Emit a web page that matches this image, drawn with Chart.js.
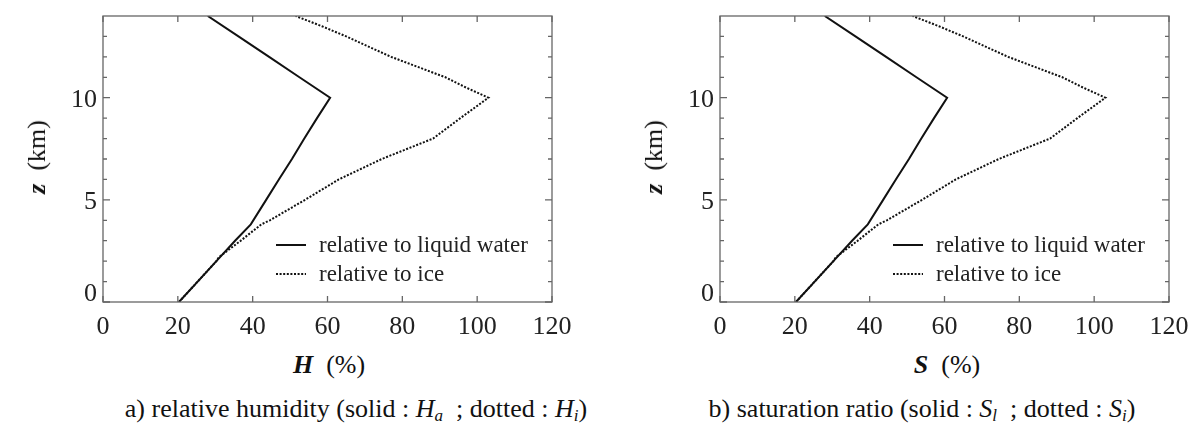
<!DOCTYPE html>
<html>
<head>
<meta charset="utf-8">
<title>Humidity profiles</title>
<script src="https://cdn.jsdelivr.net/npm/chart.js@4.4.1/dist/chart.umd.min.js"></script>
<style>
body{margin:0;background:#fff;}
#page{position:relative;width:1200px;height:435px;overflow:hidden;font-family:"Liberation Serif","Times New Roman",serif;color:#111;}
.panel{position:absolute;top:0;width:600px;height:340px;}
.lbl{position:absolute;white-space:nowrap;transform:translate(-50%,-50%);font-size:26px;line-height:1;}
.ytitle{transform:translate(-50%,-50%) rotate(-90deg);}
.lbl b{font-style:italic;}
.lbl sub{font-size:17px;vertical-align:-4px;}
</style>
</head>
<body>
<div id="page">
  <div class="panel" style="left:0"><canvas id="chartH"></canvas></div>
  <div class="panel" style="left:600px"><canvas id="chartS"></canvas></div>

  <div class="lbl ytitle" style="left:37px;top:157px"><b>z</b>&nbsp;&nbsp;(km)</div>
  <div class="lbl" style="left:329px;top:365px"><b>H</b>&nbsp;&nbsp;(%)</div>
  <div class="lbl" style="left:356px;top:410px">a) relative humidity (solid : <i>H<sub>a</sub></i>&nbsp; ; dotted : <i>H<sub>i</sub></i>)</div>

  <div class="lbl ytitle" style="left:654px;top:157px"><b>z</b>&nbsp;&nbsp;(km)</div>
  <div class="lbl" style="left:947px;top:365px"><b>S</b>&nbsp;&nbsp;(%)</div>
  <div class="lbl" style="left:922px;top:410px">b) saturation ratio (solid : <i>S<sub>l</sub></i>&nbsp; ; dotted : <i>S<sub>i</sub></i>)</div>
</div>
<script>
// axis ticks
const xTicks = [0, 20, 40, 60, 80, 100, 120];
const zTicks = [0, 5, 10];
const zMinorTicks = [1, 2, 3, 4, 6, 7, 8, 9, 11, 12, 13];

// profile relative to liquid water (solid)
const zLiquid = [0, 1, 2, 3, 3.8, 5, 6, 7, 8, 9, 10, 11, 12, 13, 14];
const hLiquid = [20.3, 25.3, 30.3, 35.3, 39.5, 43.6, 47, 50.5, 53.8, 57.2, 60.7, 52.5, 44.4, 36.2, 28];

// profile relative to ice (dotted)
const zIce = [0, 1, 2, 2.2, 3, 3.8, 4, 5, 6, 7, 8, 9, 10, 10.5, 11, 12, 13, 13.5, 14];
const hIce = [20.3, 25.3, 30.3, 31, 36.8, 42.3, 44.6, 54, 63, 74.5, 88.2, 95.5, 103, 97, 91.5, 77, 65, 58.5, 51.5];

// panel b shows the same two profiles
const legendLabels = ['relative to liquid water', 'relative to ice'];

const serif = '"Liberation Serif", "Times New Roman", serif';

function toPoints(xs, zs){
  return xs.map((v, i) => ({x: v, y: zs[i]}));
}

const frameTicksLegend = {
  id: 'frameTicksLegend',
  afterDatasetsDraw(chart){
    const {ctx, chartArea: a, scales: {x, y}} = chart;
    ctx.save();
    ctx.strokeStyle = '#666';
    ctx.lineWidth = 1.3;
    ctx.strokeRect(a.left, a.top, a.right - a.left, a.bottom - a.top);
    ctx.beginPath();
    xTicks.forEach(v => {
      const px = x.getPixelForValue(v);
      ctx.moveTo(px, a.bottom); ctx.lineTo(px, a.bottom - 6);
      ctx.moveTo(px, a.top); ctx.lineTo(px, a.top + 6);
    });
    zTicks.concat(zMinorTicks).forEach(v => {
      const py = y.getPixelForValue(v);
      const len = zTicks.includes(v) ? 7 : 4;
      ctx.moveTo(a.left, py); ctx.lineTo(a.left + len, py);
      ctx.moveTo(a.right, py); ctx.lineTo(a.right - len, py);
    });
    ctx.stroke();

    // z labels; the bottom one is lifted off the corner as in the original
    ctx.fillStyle = '#222';
    ctx.font = '26px ' + serif;
    ctx.textAlign = 'right';
    ctx.textBaseline = 'middle';
    zTicks.forEach(v => {
      const py = Math.min(y.getPixelForValue(v) + 2, a.bottom - 8);
      ctx.fillText(String(v), a.left - 6, py);
    });

    // legend inside the plot, lower right
    const lx = a.left + 173;
    ctx.textAlign = 'left';
    ctx.font = '23px ' + serif;
    chart.data.datasets.forEach((ds, i) => {
      const ly = a.bottom - 57 + i * 29;
      ctx.strokeStyle = ds.borderColor;
      ctx.lineWidth = ds.borderWidth;
      ctx.setLineDash(ds.borderDash || []);
      ctx.beginPath();
      ctx.moveTo(lx, ly); ctx.lineTo(lx + 30, ly);
      ctx.stroke();
      ctx.setLineDash([]);
      ctx.fillText(ds.label, lx + 43, ly + 1);
    });
    ctx.restore();
  }
};

function makePanel(id, plotLeft, plotRight){
  return new Chart(document.getElementById(id), {
    type: 'line',
    data: {
      datasets: [
        {label: legendLabels[0], data: toPoints(hLiquid, zLiquid), borderColor: '#111', borderWidth: 2, pointRadius: 0, tension: 0},
        {label: legendLabels[1], data: toPoints(hIce, zIce), borderColor: '#111', borderWidth: 2, borderDash: [2, 1.6], pointRadius: 0, tension: 0}
      ]
    },
    options: {
      responsive: true,
      maintainAspectRatio: false,
      animation: false,
      layout: {padding: {left: 0, top: 16, right: 600 - plotRight, bottom: 0}},
      plugins: {legend: {display: false}, tooltip: {enabled: false}},
      scales: {
        x: {
          type: 'linear', min: 0, max: 120,
          grid: {display: false, drawTicks: false},
          border: {display: false},
          afterBuildTicks: s => { s.ticks = xTicks.map(v => ({value: v})); },
          afterFit: s => { s.height = 38; },
          ticks: {padding: 10, color: '#222', font: {family: serif, size: 26}, maxRotation: 0}
        },
        y: {
          type: 'linear', min: 0, max: 14,
          grid: {display: false, drawTicks: false},
          border: {display: false},
          afterBuildTicks: s => { s.ticks = zTicks.map(v => ({value: v})); },
          afterFit: s => { s.width = plotLeft; },
          ticks: {display: false}
        }
      }
    },
    plugins: [frameTicksLegend]
  });
}

makePanel('chartH', 103, 552);
makePanel('chartS', 120, 569);
</script>
</body>
</html>
